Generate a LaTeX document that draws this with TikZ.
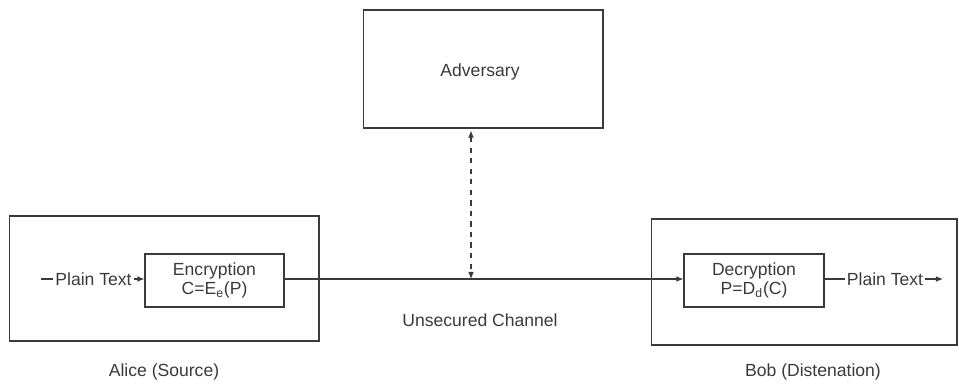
\documentclass[tikz,border=0pt]{standalone}
\usepackage{fontspec}
\setmainfont{Liberation Sans}
\usetikzlibrary{arrows.meta}
\definecolor{ink}{HTML}{3A3A3A}
\tikzset{
  box/.style={draw=ink,line width=0.6pt,rectangle,inner sep=0pt,align=center},
  link/.style={draw=ink,line width=0.6pt},
  tip/.style={-{Latex[length=4pt,width=3.2pt]}},
  lbl/.style={text=ink,font=\fontsize{10}{12}\selectfont,inner sep=1pt}
}
\begin{document}
\begin{tikzpicture}[x=0.02cm,y=-0.02cm]
  \useasboundingbox (0,0) rectangle (959,389);
  % outer boxes
  \node[box,minimum width=4.8cm,minimum height=2.36cm] (adv) at (483,69) {};
  \node[box,minimum width=6.2cm,minimum height=2.5cm] (alice) at (164,278.5) {};
  \node[box,minimum width=6.12cm,minimum height=2.52cm] (bob) at (804,282) {};
  % inner boxes
  \node[box,lbl,minimum width=2.78cm,minimum height=1.06cm] (enc) at (214.5,280.5)
        {Encryption\\[-1pt]C=E\textsubscript{e}(P)};
  \node[box,lbl,minimum width=2.8cm,minimum height=1.06cm] (dec) at (754,280.5)
        {Decryption\\[-1pt]P=D\textsubscript{d}(C)};
  % texts
  \node[lbl] (advt) at (480,72) {Adversary};
  \node[lbl] (ptin) at (93.5,279) {Plain Text};
  \node[lbl] (ptout) at (885,279) {Plain Text};
  \node[lbl] (chant) at (480,320) {Unsecured Channel};
  \node[lbl] (alicet) at (164,372) {Alice (Source)};
  \node[lbl] (bobt) at (813,372) {Bob (Distenation)};
  \coordinate (in) at (41,279);
  \coordinate (out) at (943,279);
  \coordinate (chan) at (471,279);
  % connectors
  \draw[link] (in) -- (ptin.west);
  \draw[link,tip] (ptin.east) -- (enc.west |- ptin.east);
  \draw[link,tip] (enc.east |- chan) -- (dec.west |- chan);
  \draw[link] (dec.east |- ptout.west) -- (ptout.west);
  \draw[link,tip] (ptout.east) -- (out);
  \draw[link,dashed,{Latex[length=4pt,width=3.2pt]}-{Latex[length=4pt,width=3.2pt]}]
        (adv.south -| chan) ++(0,2) -- (chan);
\end{tikzpicture}
\end{document}
